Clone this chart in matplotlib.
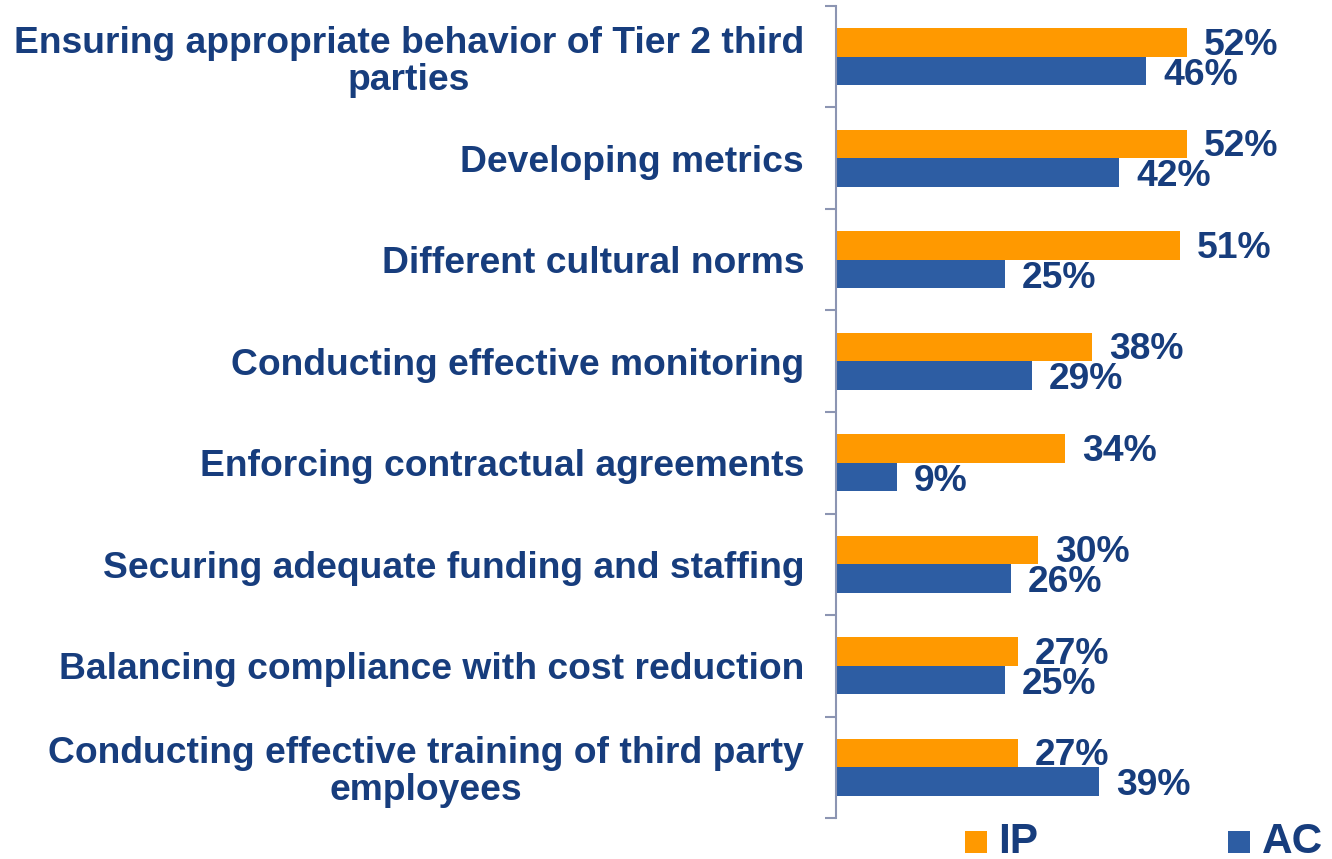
import matplotlib
matplotlib.use("Agg")
import matplotlib.pyplot as plt
from matplotlib.ticker import FixedLocator
from matplotlib.patches import Rectangle
import numpy as np

categories = [
    "Ensuring appropriate behavior of Tier 2 third\nparties",
    "Developing metrics",
    "Different cultural norms",
    "Conducting effective monitoring",
    "Enforcing contractual agreements",
    "Securing adequate funding and staffing",
    "Balancing compliance with cost reduction",
    "Conducting effective training of third party\nemployees",
]
ip_values = [52, 52, 51, 38, 34, 30, 27, 27]
ac_values = [46, 42, 25, 29, 9, 26, 25, 39]
series_names = ["IP", "AC"]

ORANGE = "#FF9900"
BLUE = "#2D5DA3"
NAVY = "#173D7D"
AXIS = "#8C95B2"

plt.rcParams['font.family'] = ['Liberation Sans', 'DejaVu Sans']
plt.rcParams['font.weight'] = 'bold'

W, H = 1332, 859
fig = plt.figure(figsize=(W/100, H/100), dpi=100)
ax = fig.add_axes([836/W, 1-818/H, 1-836/W, (818-6)/H])

y = np.arange(len(categories))
h = 0.28
b1 = ax.barh(y - h/2, ip_values, height=h, color=ORANGE, label=series_names[0])
b2 = ax.barh(y + h/2, ac_values, height=h, color=BLUE, label=series_names[1])

for rect, v in zip(b1, ip_values):
    ax.annotate(f"{v}%", (rect.get_width(), rect.get_y() + rect.get_height()/2),
                xytext=(12, -2), textcoords="offset points", va="center", ha="left",
                fontsize=26.8, fontweight="bold", color=NAVY)
for rect, v in zip(b2, ac_values):
    ax.annotate(f"{v}%", (rect.get_width(), rect.get_y() + rect.get_height()/2),
                xytext=(12, -3), textcoords="offset points", va="center", ha="left",
                fontsize=26.8, fontweight="bold", color=NAVY)

ax.set_xlim(0, 73.5)
ax.set_ylim(len(categories) - 0.5, -0.5)
ax.set_yticks(y)
ax.set_yticklabels(categories, fontsize=26.8, fontweight="bold", color=NAVY,
                   multialignment="center", linespacing=1.07)
ax.tick_params(axis="y", which="major", length=0, pad=23)
ax.yaxis.set_minor_locator(FixedLocator(np.arange(-0.5, len(categories), 1.0)))
ax.tick_params(axis="y", which="minor", length=8, width=1.5, color=AXIS, direction="out")
ax.set_xticks([])
for s in ["top", "right", "bottom"]:
    ax.spines[s].set_visible(False)
ax.spines["left"].set_color(AXIS)
ax.spines["left"].set_linewidth(1.5)

# legend (manual placement to match reference)
leg_items = [(series_names[0], ORANGE, 965, 998), (series_names[1], BLUE, 1228, 1262)]
for name, col, sx, tx in leg_items:
    fig.add_artist(Rectangle((sx/W, 1-853/H), 22/W, 22/H, transform=fig.transFigure,
                             facecolor=col, edgecolor="none"))
    fig.text(tx/W, 1-853/H, name, ha="left", va="baseline", fontsize=30.5,
             fontweight="bold", color=NAVY)

fig.savefig("out.png", dpi=100)
